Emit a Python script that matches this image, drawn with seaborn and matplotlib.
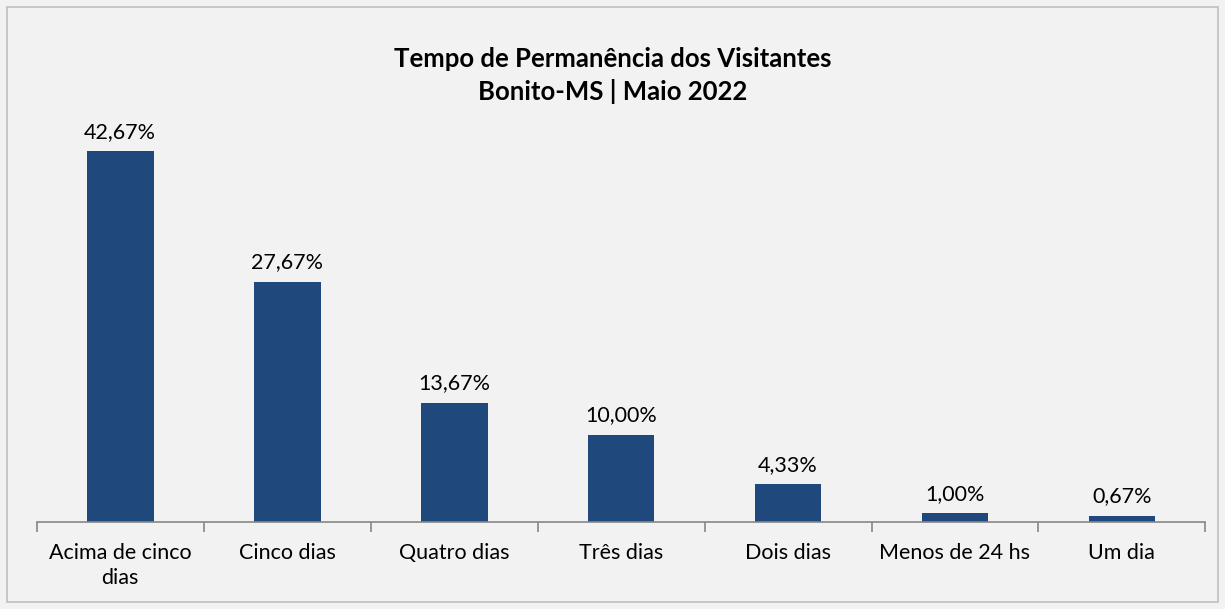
import matplotlib
matplotlib.use("Agg")
import matplotlib.pyplot as plt
import seaborn as sns
import pandas as pd
from matplotlib.patches import Rectangle
from matplotlib.ticker import FixedLocator

# --- dados ---
categorias = ["Acima de cinco\ndias", "Cinco dias", "Quatro dias", "Três dias",
              "Dois dias", "Menos de 24 hs", "Um dia"]
percentuais = [42.67, 27.67, 13.67, 10.00, 4.33, 1.00, 0.67]
titulo = "Tempo de Permanência dos Visitantes\nBonito-MS | Maio 2022"

sns.set_theme(style="white")
plt.rcParams['font.family'] = ['Lato', 'DejaVu Sans']
plt.rcParams['text.color'] = '#000000'

fundo = "#f2f2f2"
cor_barra = "#1f497d"

df = pd.DataFrame({"categoria": categorias, "pct": percentuais})

fig = plt.figure(figsize=(12.25, 6.09), dpi=100, facecolor=fundo)
ax = fig.add_axes([0.030, 0.143, 0.954, 0.642])
ax.set_facecolor(fundo)

sns.barplot(data=df, x="categoria", y="pct", color=cor_barra, width=0.40,
            saturation=1, linewidth=0, ax=ax)

for i, v in enumerate(percentuais):
    ax.text(i, v + 1.1, f"{v:.2f}%".replace(".", ","), ha="center", va="bottom",
            fontsize=15.5, color="#000000")

ax.set_xlim(-0.5, len(categorias) - 0.5)
ax.set_ylim(0, 45)
ax.set_xlabel("")
ax.set_ylabel("")
ax.set_yticks([])

for s in ["top", "right", "left"]:
    ax.spines[s].set_visible(False)
ax.spines["bottom"].set_color("#868686")
ax.spines["bottom"].set_linewidth(1.2)

ax.tick_params(axis="x", which="major", length=0, labelsize=15.5, pad=15,
               labelcolor="#000000")
for lbl in ax.get_xticklabels():
    lbl.set_linespacing(1.35)
ax.xaxis.set_minor_locator(FixedLocator([i - 0.5 for i in range(len(categorias) + 1)]))
ax.tick_params(axis="x", which="minor", bottom=True, length=7, width=1.2,
               color="#868686", direction="out")

fig.text(0.5, 0.876, titulo, ha="center", va="center", fontsize=18.5,
         fontweight="bold", linespacing=1.42, color="#000000")

fig.patches.append(Rectangle((0.006, 0.011), 0.988, 0.978, transform=fig.transFigure,
                             fill=False, edgecolor="#bfbfbf", linewidth=1.2))

fig.savefig("out.png", dpi=100, facecolor=fundo)
